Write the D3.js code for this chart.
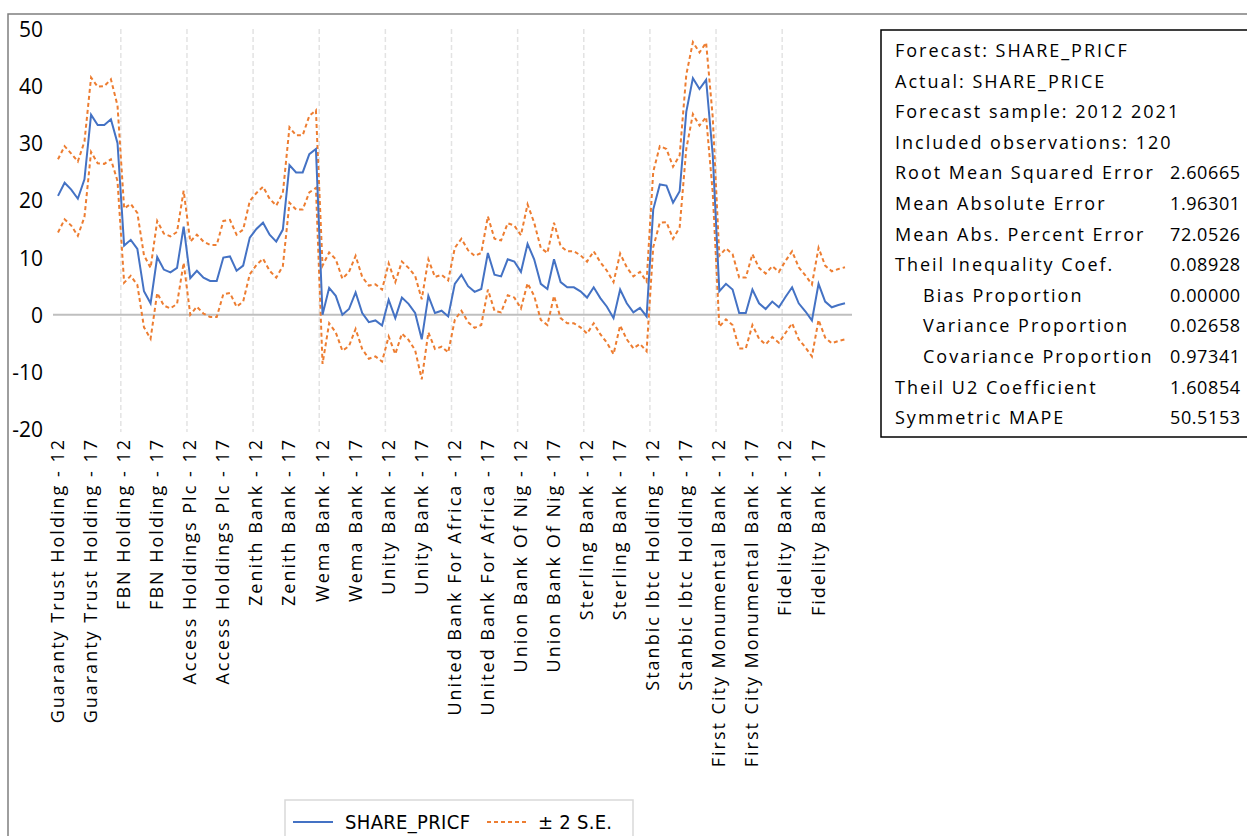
<!DOCTYPE html>
<html>
<head>
    <meta charset="utf-8">
    <script src="https://cdn.jsdelivr.net/npm/d3@7"></script>
    <style type="text/css">
        body { margin: 0; background: #fff; }
        svg { display: block; }
        text { font-family: "Open Sans", "DejaVu Sans", sans-serif; fill: #000; }
    </style>
</head>
<body>
<script type="text/javascript">
    // banks in order, 10 years each (2012-2021)
    var banks = ["Guaranty Trust Holding", "FBN Holding", "Access Holdings Plc", "Zenith Bank",
                 "Wema Bank", "Unity Bank", "United Bank For Africa", "Union Bank Of Nig",
                 "Sterling Bank", "Stanbic Ibtc Holding", "First City Monumental Bank", "Fidelity Bank"];
    var tickYears = ["12", "17"];   // labelled years within each bank block
    var yTicks = [50, 40, 30, 20, 10, 0, -10, -20];

    // SHARE_PRICF (forecast)
    var forecast = [
        20.8, 23.1, 21.9, 20.3, 23.7, 35.0, 33.2, 33.2, 34.2, 30.0,
        12.1, 13.1, 11.5, 4.1, 2.0, 10.1, 7.9, 7.4, 8.2, 15.4,
        6.4, 7.7, 6.5, 5.9, 5.9, 10.0, 10.2, 7.7, 8.6, 13.5,
        15.0, 16.1, 14.0, 12.8, 14.9, 26.2, 24.9, 24.9, 28.1, 29.0,
        0.0, 4.7, 3.3, 0.0, 1.0, 3.9, 0.3, -1.3, -1.0, -1.9,
        2.6, -0.6, 3.0, 1.9, 0.3, -4.3, 3.3, 0.3, 0.7, -0.3,
        5.4, 7.0, 5.0, 4.0, 4.5, 10.8, 7.0, 6.7, 9.7, 9.3,
        7.5, 12.4, 9.7, 5.4, 4.5, 9.7, 5.7, 4.8, 4.8, 4.1,
        3.0, 4.8, 2.9, 1.4, -0.6, 4.4, 2.0, 0.4, 1.2, -0.3,
        18.4, 22.8, 22.6, 19.6, 21.6, 35.5, 41.4, 39.5, 41.1, 28.0,
        4.1, 5.4, 4.4, 0.3, 0.3, 4.4, 2.0, 1.0, 2.3, 1.3,
        3.1, 4.8, 2.0, 0.6, -1.0, 5.4, 2.3, 1.3, 1.7, 2.0
    ];

    // half width of the band (2 x S.E.) per observation
    var twoSE = [
        6.4, 6.4, 6.3, 6.5, 6.6, 6.5, 6.7, 6.8, 7.0, 6.6,
        6.5, 6.3, 6.3, 6.3, 6.2, 6.3, 6.3, 6.3, 6.3, 6.3,
        6.4, 6.3, 6.3, 6.3, 6.3, 6.4, 6.4, 6.3, 6.3, 6.4,
        6.3, 6.3, 6.3, 6.3, 6.4, 6.6, 6.5, 6.5, 6.7, 6.8,
        8.6, 6.2, 6.4, 6.3, 6.5, 6.4, 6.3, 6.4, 6.3, 6.3,
        6.4, 6.3, 6.3, 6.3, 6.5, 7.0, 6.4, 6.3, 6.3, 6.3,
        6.3, 6.3, 6.3, 6.3, 6.3, 6.4, 6.3, 6.3, 6.3, 6.3,
        6.4, 6.9, 6.4, 6.3, 6.3, 6.4, 6.3, 6.3, 6.3, 6.3,
        6.3, 6.3, 6.3, 6.3, 6.3, 6.3, 6.3, 6.3, 6.3, 6.1,
        6.6, 6.7, 6.4, 6.3, 6.3, 6.5, 6.3, 6.4, 6.5, 6.6,
        6.2, 6.2, 6.2, 6.2, 6.2, 6.2, 6.2, 6.2, 6.2, 6.2,
        6.3, 6.3, 6.3, 6.3, 6.3, 6.3, 6.3, 6.3, 6.3, 6.3
    ];

    var statNames = ["Forecast: SHARE_PRICF", "Actual: SHARE_PRICE", "Forecast sample: 2012 2021",
                     "Included observations: 120", "Root Mean Squared Error", "Mean Absolute Error",
                     "Mean Abs. Percent Error", "Theil Inequality Coef.", "   Bias Proportion",
                     "   Variance Proportion", "   Covariance Proportion", "Theil U2 Coefficient",
                     "Symmetric MAPE"];
    // values as far as they show before the picture's right edge
    var statValues = ["", "", "", "", "2.60665", "1.96301", "72.0526", "0.08928",
                      "0.00000", "0.02658", "0.97341", "1.60854", "50.5153"];

    var W = 1247, H = 836;
    var svg = d3.select("body").append("svg").attr("width", W).attr("height", H);

    // outer frame (cut off at right and bottom)
    svg.append("path")
        .attr("d", "M8,900 L8,14 L1300,14")
        .attr("fill", "none").attr("stroke", "#7f7f7f").attr("stroke-width", 1.5);

    var n = forecast.length;
    var x = d3.scaleLinear().domain([0, n - 1]).range([58, 845]);
    var y = d3.scaleLinear().domain([-20, 50]).range([429, 29]);
    var step = x(1) - x(0);

    // vertical dashed gridlines between bank blocks
    svg.selectAll(".grid").data(d3.range(1, banks.length))
        .enter().append("line")
        .attr("x1", function(k) { return x(k * 10) - step / 2; })
        .attr("x2", function(k) { return x(k * 10) - step / 2; })
        .attr("y1", y(50)).attr("y2", y(-20) + 3)
        .attr("stroke", "#e3e3e3").attr("stroke-width", 1.5)
        .attr("stroke-dasharray", "5,3");

    // zero line
    svg.append("line")
        .attr("x1", 53).attr("x2", 852)
        .attr("y1", y(0)).attr("y2", y(0))
        .attr("stroke", "#bfbfbf").attr("stroke-width", 2);

    // y tick labels
    svg.selectAll(".ytick").data(yTicks)
        .enter().append("text")
        .attr("x", 43).attr("y", function(d) { return y(d); })
        .attr("text-anchor", "end").attr("dominant-baseline", "central")
        .style("font-size", "21px")
        .text(function(d) { return d; });

    // x tick labels, every 5th observation
    var xTicks = [];
    banks.forEach(function(b, bi) {
        tickYears.forEach(function(yr, yi) {
            xTicks.push({ i: bi * 10 + yi * 5, label: b + " - " + yr });
        });
    });
    svg.selectAll(".xtick").data(xTicks)
        .enter().append("text")
        .attr("transform", function(d) { return "translate(" + (x(d.i) - 1) + ",438) rotate(-90)"; })
        .attr("text-anchor", "end").attr("dominant-baseline", "central")
        .style("font-size", "18px").style("letter-spacing", "2px")
        .text(function(d) { return d.label; });

    // series
    var line = d3.line().x(function(d, i) { return x(i); }).y(function(d) { return y(d); });
    var upper = forecast.map(function(f, i) { return f + twoSE[i]; });
    var lower = forecast.map(function(f, i) { return f - twoSE[i]; });

    [upper, lower].forEach(function(s) {
        svg.append("path").datum(s)
            .attr("d", line).attr("fill", "none")
            .attr("stroke", "#ED7D31").attr("stroke-width", 2)
            .attr("stroke-dasharray", "4,3");
    });
    svg.append("path").datum(forecast)
        .attr("d", line).attr("fill", "none")
        .attr("stroke", "#4472C4").attr("stroke-width", 2);

    // statistics box
    svg.append("rect")
        .attr("x", 881).attr("y", 30).attr("width", 420).attr("height", 407)
        .attr("fill", "#fff").attr("stroke", "#000").attr("stroke-width", 1.5);
    var stats = svg.append("g");
    statNames.forEach(function(s, i) {
        var indent = s.indexOf("   ") === 0;
        stats.append("text")
            .attr("x", indent ? 923 : 895).attr("y", 50 + i * 30.6)
            .attr("dominant-baseline", "central")
            .style("font-size", "18px").style("letter-spacing", "2px")
            .text(s.trim());
        if (statValues[i]) {
            stats.append("text")
                .attr("x", 1170).attr("y", 50 + i * 30.6)
                .attr("dominant-baseline", "central")
                .style("font-size", "18px").style("letter-spacing", "0.6px")
                .text(statValues[i]);
        }
    });

    // legend
    var lg = svg.append("g");
    lg.append("rect").attr("x", 285).attr("y", 800).attr("width", 348).attr("height", 60)
        .attr("fill", "#fff").attr("stroke", "#d9d9d9").attr("stroke-width", 1.5);
    lg.append("line").attr("x1", 293).attr("x2", 333).attr("y1", 822).attr("y2", 822)
        .attr("stroke", "#4472C4").attr("stroke-width", 2);
    lg.append("text").attr("x", 345).attr("y", 822).attr("dominant-baseline", "central")
        .style("font-family", "'Liberation Sans Narrow', 'DejaVu Sans Condensed', sans-serif")
        .style("font-size", "20px").attr("textLength", 125)
        .text("SHARE_PRICF");
    lg.append("line").attr("x1", 487).attr("x2", 527).attr("y1", 822).attr("y2", 822)
        .attr("stroke", "#ED7D31").attr("stroke-width", 2).attr("stroke-dasharray", "4,3");
    lg.append("text").attr("x", 538).attr("y", 822).attr("dominant-baseline", "central")
        .style("font-family", "'Liberation Sans Narrow', 'DejaVu Sans Condensed', sans-serif")
        .style("font-size", "20px").attr("textLength", 74)
        .text("± 2 S.E.");
</script>
</body>
</html>
